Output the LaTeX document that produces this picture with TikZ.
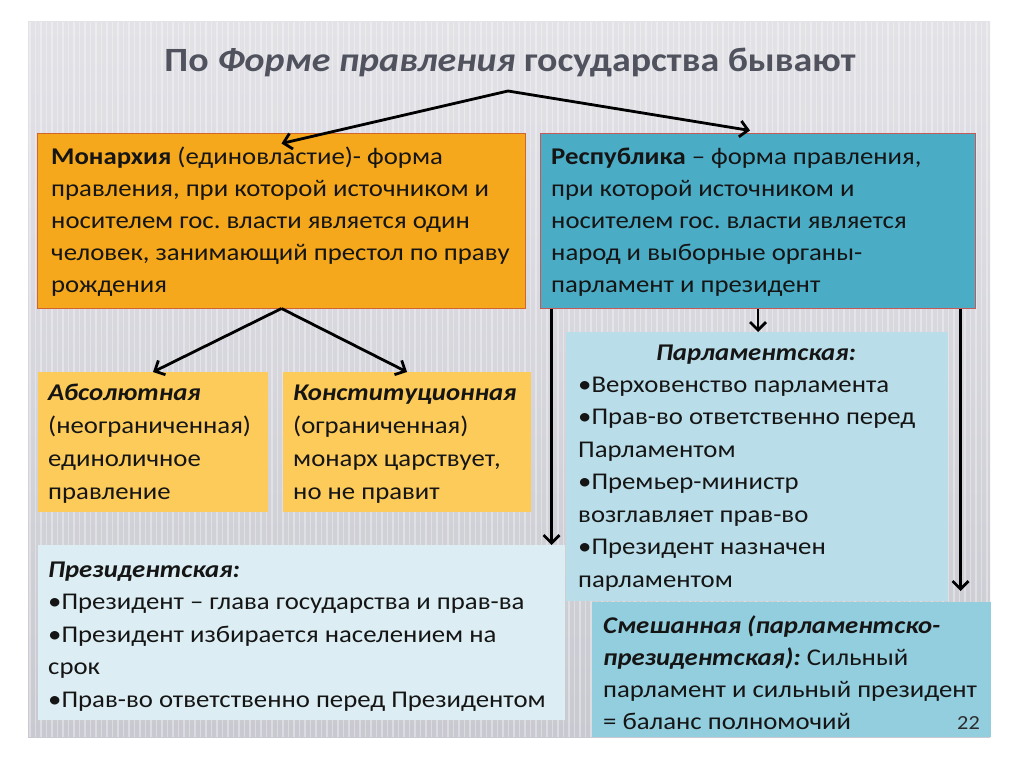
\documentclass[tikz,border=0pt]{standalone}
\usepackage{fontspec}
\setmainfont[FakeStretch=1.115]{Carlito}
\usetikzlibrary{arrows.meta}
\definecolor{slidetop}{HTML}{E2E2E7}
\definecolor{slidebot}{HTML}{C9C9D1}
\definecolor{monfill}{HTML}{F5A81C}
\definecolor{monline}{HTML}{D2642E}
\definecolor{repfill}{HTML}{4BACC6}
\definecolor{repline}{HTML}{C25A5A}
\definecolor{subfill}{HTML}{FCCB5A}
\definecolor{parlfill}{HTML}{BADEE9}
\definecolor{presfill}{HTML}{DCEEF3}
\definecolor{mixfill}{HTML}{93CEDE}
\definecolor{titlecol}{HTML}{50535E}
\definecolor{textcol}{HTML}{151515}
\frenchspacing
\begin{document}
\begin{tikzpicture}[x=1pt,y=-1pt,
  panel/.style={rectangle, inner sep=0pt, outer sep=0pt, anchor=north west},
  body/.style={inner sep=0pt, anchor=north west, align=left, text=textcol, font=\fontsize{24}{32}\selectfont},
  bodyw/.style={inner sep=0pt, anchor=north west, align=left, text=textcol, font=\fontsize{24}{33}\selectfont},
  bodyp/.style={inner sep=0pt, anchor=north west, align=left, text=textcol, font=\fontsize{24}{32.5}\selectfont},
  link/.style={line width=2.8pt, draw=black, -{Straight Barb[length=8pt,width=16pt,line width=2.8pt]}},
  stripe/.style={draw=white, draw opacity=0.35, line width=1.8pt}
]
\useasboundingbox (0,0) rectangle (1024,767);
\fill[white] (0,0) rectangle (1024,767);
% slide background
\shade[top color=slidetop, bottom color=slidebot] (28,22) rectangle (990,737);
\begin{scope}
  \clip (28,22) rectangle (990,737);
  \foreach \i in {0,...,175} \draw[stripe] ({30+\i*5.5},22) -- ({30+\i*5.5},737);
\end{scope}

% title
\node[anchor=base, inner sep=0pt, text=titlecol, font=\fontsize{34}{40}\selectfont\bfseries] (title) at (510,72)
  {По \textit{Форме правления} государства бывают};

% boxes
\node[panel, fill=monfill, draw=monline, line width=1.2pt, minimum width=488, minimum height=175] (mon) at (37.5,133.5) {};
\node[panel, fill=repfill, draw=repline, line width=1.2pt, minimum width=435, minimum height=175] (rep) at (540.5,133.5) {};
\node[panel, fill=subfill, minimum width=230, minimum height=140] (abs) at (38,372) {};
\node[panel, fill=subfill, minimum width=248, minimum height=140] (kon) at (283,372) {};
\node[panel, fill=parlfill, minimum width=382, minimum height=269] (parl) at (566,332) {};
\node[panel, fill=presfill, minimum width=527, minimum height=175] (pres) at (38,545) {};
\node[panel, fill=mixfill, minimum width=399, minimum height=135] (mix) at (592,602) {};

% texts
\node[body] (montxt) at (51,141.6) {\strut\textbf{Монархия} (единовластие)- форма\\правления, при которой источником и\\носителем гос. власти является один\\человек, занимающий престол по праву\\рождения};
\node[body] (reptxt) at (551,141.6) {\strut\textbf{Республика} – форма правления,\\при которой источником и\\носителем гос. власти является\\народ и выборные органы-\\парламент и президент};
\node[bodyw] (abstxt) at (48,376.9) {\strut\textbf{\textit{Абсолютная}}\\(неограниченная)\\единоличное\\правление};
\node[bodyw] (kontxt) at (293,376.9) {\strut\textbf{\textit{Конституционная}}\\(ограниченная)\\монарх царствует,\\но не правит};
\node[anchor=base, inner sep=0pt, text=textcol, font=\fontsize{24}{32}\selectfont\bfseries\itshape] (parlhead) at (756,360) {Парламентская:};
\node[bodyp] (parltxt) at (578,369.25) {\strut•Верховенство парламента\\•Прав-во ответственно перед\\Парламентом\\•Премьер-министр\\возглавляет прав-во\\•Президент назначен\\парламентом};
\node[bodyp] (prestxt) at (48,554.25) {\strut\textbf{\textit{Президентская:}}\\•Президент – глава государства и прав-ва\\•Президент избирается населением на\\срок\\•Прав-во ответственно перед Президентом};
\node[body] (mixtxt) at (603,610.6) {\strut\textbf{\textit{Смешанная (парламентско-}}\\\textbf{\textit{президентская):}} Сильный\\парламент и сильный президент\\= баланс полномочий};
\node[anchor=base east, inner sep=0pt, text=textcol!90!white, font=\fontsize{20}{22}\selectfont] (pagenum) at (980,729) {22};

% connectors
\coordinate (apex) at (508,91);
\draw[link] (apex) -- ([yshift=-10pt]mon.north);
\draw[link] (apex) -- ([xshift=-8pt,yshift=3pt]rep.north);
\draw[link] (mon.south) -- (abs.north);
\draw[link] (mon.south) -- (kon.north);
\draw[link] ([xshift=11pt]rep.south west) -- ([xshift=11pt]rep.south west |- pres.north);
\draw[link] (rep.south) -- (rep.south |- parl.north);
\draw[link, shorten >=11pt] ([xshift=-15pt]rep.south east) -- ([xshift=-15pt]rep.south east |- mix.north);
\end{tikzpicture}
\end{document}
